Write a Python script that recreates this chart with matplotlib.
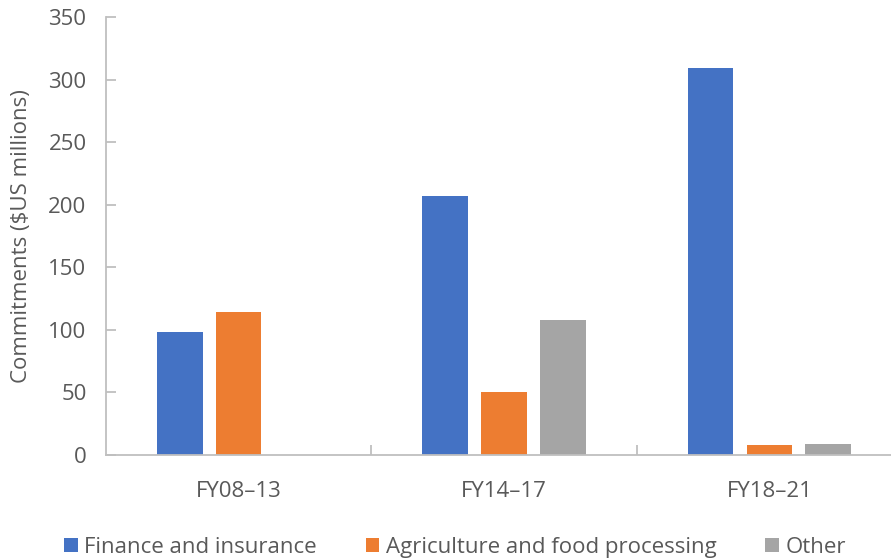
import numpy as np
import matplotlib.pyplot as plt

plt.rcParams['font.family'] = ['Open Sans', 'DejaVu Sans']

periods = ['FY08\u201313', 'FY14\u201317', 'FY18\u201321']
finance = [98, 207, 309]
agri = [114, 50, 8]
other = [0, 108, 9]
series = ['Finance and insurance', 'Agriculture and food processing', 'Other']
colors = ['#4472C4', '#ED7D31', '#A5A5A5']

txt = '#595959'
axc = '#BFBFBF'
fs = 16

fig = plt.figure(figsize=(8.91, 5.60), dpi=100)
# plot area runs past the right edge like the source image
ax = fig.add_axes([106 / 891, 1 - 455 / 560, 796 / 891, 438 / 560])

x = np.arange(len(periods))
w = 0.172
step = 0.2215
for i, (vals, name, c) in enumerate(zip([finance, agri, other], series, colors)):
    ax.bar(x + (i - 1) * step, vals, width=w, color=c, label=name)

ax.set_xlim(-0.5, 2.5)
ax.set_ylim(0, 350)
ax.set_yticks(range(0, 351, 50))
ax.set_xticks(x)
ax.set_xticklabels(periods)
ax.set_xticks([0.5, 1.5], minor=True)

for s in ['top', 'right']:
    ax.spines[s].set_visible(False)
for s in ['left', 'bottom']:
    ax.spines[s].set_color(axc)
    ax.spines[s].set_linewidth(1.3)

ax.tick_params(axis='y', direction='in', length=7, width=1.3, color=axc,
               labelcolor=txt, labelsize=fs, pad=14)
ax.tick_params(axis='x', which='major', length=0, labelcolor=txt, labelsize=fs, pad=19)
ax.tick_params(axis='x', which='minor', direction='in', length=7, width=1.3, color=axc)

ax.set_ylabel('Commitments ($US millions)', color=txt, fontsize=fs, labelpad=12)

fig.legend(loc='lower center', bbox_to_anchor=(455 / 891, -0.032), ncol=3, frameon=False,
           fontsize=fs, labelcolor=txt, handlelength=0.6, handleheight=0.6,
           handletextpad=0.3, columnspacing=2.2)

fig.savefig('out.png', dpi=100)
